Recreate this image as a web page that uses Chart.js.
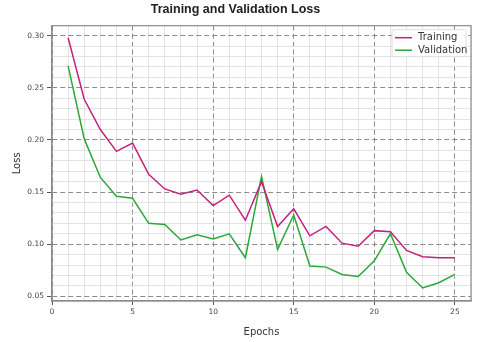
<!DOCTYPE html>
<html>
<head>
<meta charset="utf-8">
<script src="https://cdn.jsdelivr.net/npm/chart.js@4.4.0/dist/chart.umd.min.js"></script>
<style>
  html, body { margin: 0; padding: 0; background: #fff; }
  #wrap { width: 480px; height: 342px; }
</style>
</head>
<body>
<div id="wrap"><canvas id="lossChart" width="480" height="342"></canvas></div>
<script>
// epochs and loss values
const epochs = [1, 2, 3, 4, 5, 6, 7, 8, 9, 10, 11, 12, 13, 14, 15, 16, 17, 18, 19, 20, 21, 22, 23, 24, 25];
const trainingLoss = [0.298, 0.239, 0.210, 0.189, 0.197, 0.167, 0.153, 0.148, 0.152, 0.137, 0.147, 0.123, 0.160, 0.117, 0.134, 0.108, 0.117, 0.101, 0.098, 0.113, 0.112, 0.094, 0.088, 0.087, 0.087];
const validationLoss = [0.271, 0.201, 0.164, 0.146, 0.144, 0.120, 0.119, 0.104, 0.109, 0.105, 0.110, 0.087, 0.165, 0.095, 0.128, 0.079, 0.078, 0.071, 0.069, 0.084, 0.110, 0.073, 0.058, 0.063, 0.071];

const xTicks = [0, 5, 10, 15, 20, 25];
const yTicks = [0.05, 0.10, 0.15, 0.20, 0.25, 0.30];

const tickFont = { family: 'DejaVu Sans', size: 7.5 };
const labelFont = { family: 'DejaVu Sans', size: 10 };

function isMajor(list, v) {
  return list.some(t => Math.abs(t - v) < 1e-6);
}

// matplotlib style grid: dashed major lines, faint solid minor lines
function gridColor(list) {
  return ctx => (ctx.tick && isMajor(list, ctx.tick.value)) ? '#8c8c8c' : '#e3e3e3';
}
function gridDash(list) {
  return ctx => (ctx.tick && isMajor(list, ctx.tick.value)) ? [5, 3] : [];
}
function tickColor(list) {
  return ctx => (ctx.tick && isMajor(list, ctx.tick.value)) ? '#555' : 'rgba(0,0,0,0)';
}

// frame round the plot and a boxed legend in the top right corner
const framePlugin = {
  id: 'frame',
  afterDraw(chart) {
    const c = chart.ctx;
    const a = chart.chartArea;
    c.save();
    c.strokeStyle = '#8a8a8a';
    c.lineWidth = 1.2;
    c.strokeRect(a.left, a.top, a.right - a.left, a.bottom - a.top);

    const boxW = 74, boxH = 27;
    const bx = a.right - boxW - 5, by = a.top + 4;
    c.fillStyle = 'rgba(255,255,255,0.9)';
    c.strokeStyle = '#dddddd';
    c.lineWidth = 1;
    c.beginPath();
    c.roundRect(bx, by, boxW, boxH, 2);
    c.fill();
    c.stroke();

    c.font = '10px "DejaVu Sans"';
    c.textBaseline = 'middle';
    chart.data.datasets.forEach((ds, i) => {
      const y = by + 8 + i * 12.5;
      c.strokeStyle = ds.borderColor;
      c.lineWidth = 1.5;
      c.beginPath();
      c.moveTo(bx + 3, y);
      c.lineTo(bx + 20, y);
      c.stroke();
      c.fillStyle = '#333';
      c.fillText(ds.label, bx + 26, y);
    });
    c.restore();
  }
};

new Chart(document.getElementById('lossChart'), {
  type: 'line',
  data: {
    datasets: [{
      label: 'Training',
      data: epochs.map((e, i) => ({ x: e, y: trainingLoss[i] })),
      borderColor: '#c71f7e',
      borderWidth: 1.5,
      pointRadius: 0,
      tension: 0,
      fill: false
    }, {
      label: 'Validation',
      data: epochs.map((e, i) => ({ x: e, y: validationLoss[i] })),
      borderColor: '#2aa83a',
      borderWidth: 1.5,
      pointRadius: 0,
      tension: 0,
      fill: false
    }]
  },
  options: {
    responsive: false,
    animation: false,
    layout: { padding: { left: 0, right: 9, top: 0, bottom: 0 } },
    plugins: {
      legend: { display: false },
      tooltip: { enabled: false },
      title: {
        display: true,
        text: 'Training and Validation Loss',
        color: '#222',
        font: { family: '"Liberation Sans", Arial', size: 12.5, weight: 'bold' },
        padding: { top: 2.5, bottom: 8.2 }
      }
    },
    scales: {
      x: {
        type: 'linear',
        min: 0,
        max: 26,
        afterFit: s => { s.height = 41; },
        ticks: {
          stepSize: 1,
          autoSkip: false,
          maxRotation: 0,
          padding: 3,
          color: '#444',
          font: tickFont,
          callback: v => isMajor(xTicks, v) ? String(v) : ''
        },
        grid: {
          color: gridColor(xTicks),
          tickColor: tickColor(xTicks),
          tickLength: 4,
          lineWidth: 1
        },
        border: { color: '#8a8a8a', width: 1.2, dash: gridDash(xTicks) },
        title: { display: true, text: 'Epochs', color: '#333', font: labelFont, padding: { top: 0, bottom: 4 } }
      },
      y: {
        type: 'linear',
        min: 0.0455,
        max: 0.3096,
        afterFit: s => { s.width = 52; },
        ticks: {
          stepSize: 0.01,
          includeBounds: false,
          autoSkip: false,
          padding: 3,
          color: '#444',
          font: tickFont,
          callback: v => isMajor(yTicks, v) ? v.toFixed(2) : ''
        },
        grid: {
          color: gridColor(yTicks),
          tickColor: tickColor(yTicks),
          tickLength: 5,
          lineWidth: 1
        },
        border: { color: '#8a8a8a', width: 1.2, dash: gridDash(yTicks) },
        title: { display: true, text: 'Loss', color: '#333', font: labelFont, padding: { top: 11, bottom: 0 } }
      }
    }
  },
  plugins: [framePlugin]
});
</script>
</body>
</html>
